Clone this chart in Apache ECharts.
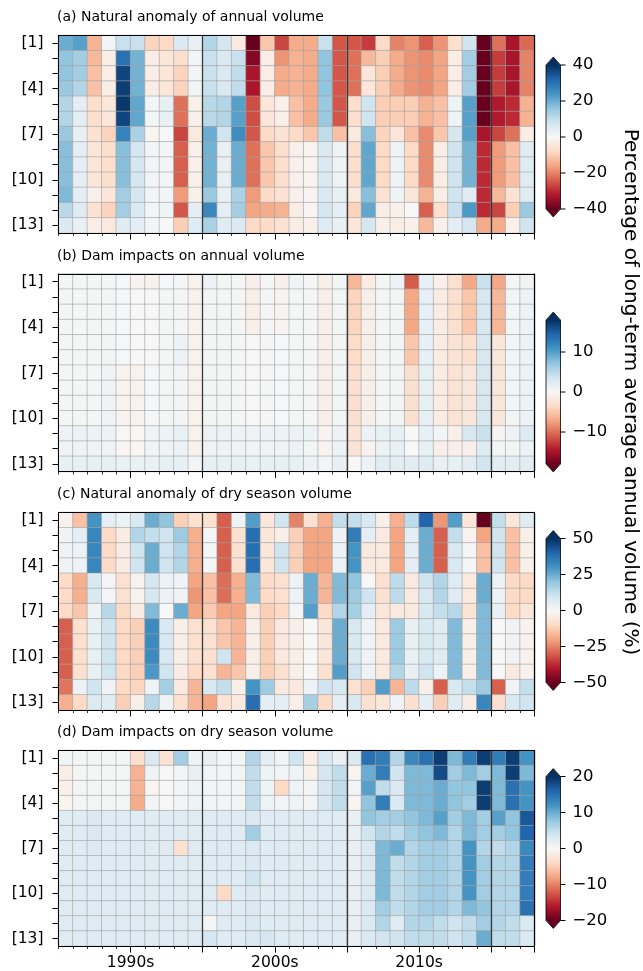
<!DOCTYPE html>
<html><head><meta charset="utf-8">
<script src="https://cdn.jsdelivr.net/npm/echarts@6/dist/echarts.min.js"></script>
<style>html,body{margin:0;padding:0;background:#fff}#c{width:643px;height:971px}</style>
</head><body><div id="c"></div>
<script>
const years = ['1990','1991','1992','1993','1994','1995','1996','1997','1998','1999','2000','2001','2002','2003','2004','2005','2006','2007','2008','2009','2010','2011','2012','2013','2014','2015','2016','2017','2018','2019','2020','2021','2022'];
const rowLabels = ['[1]','[2]','[3]','[4]','[5]','[6]','[7]','[8]','[9]','[10]','[11]','[12]','[13]'];
const decadeLabels = {5:'1990s', 15:'2000s', 25:'2010s'};
const decadeBreaks = [10, 20, 30];
const panelTitles = ['(a) Natural anomaly of annual volume','(b) Dam impacts on annual volume','(c) Natural anomaly of dry season volume','(d) Dam impacts on dry season volume'];
const colorRanges = [40, 18, 50, 20];
const colorbarTicks = [[-40,-20,0,20,40],[-10,0,10],[-50,-25,0,25,50],[-20,-10,0,10,20]];
const cbarLabel = 'Percentage of long-term average annual volume (%)';

// each inner array = one year (column), values for rows [1]..[13]
const annualNatural = [
[20,16,16,15,12,12,15,17,17,17,18,11,6],
[22,14,14,12,4,4,3,4,4,4,4,5,3],
[-14,-13,-12,-12,-7,-7,-6,-5,-5,-5,-2,-6,-3],
[1,-3,-3,-3,-5,-5,-9,-7,-7,-7,-5,-9,-4],
[9,30,37,38,39,37,27,17,17,17,14,14,5],
[9,19,19,19,21,21,13,7,7,7,7,6,4],
[-9,-3,-3,-3,1,1,-1,1,1,1,1,1,1],
[-8,-5,-5,-5,3,3,0,1,1,1,1,2,0],
[6,-7,-9,-9,-22,-22,-27,-24,-24,-24,-17,-25,-10],
[3,1,1,1,-2,-2,-4,-2,-2,-2,-2,4,5],
[12,9,9,9,11,11,20,19,19,19,15,26,13],
[7,6,6,6,12,12,8,3,3,3,3,4,5],
[-4,9,10,10,22,22,25,20,20,20,13,14,6],
[-40,-37,-33,-33,-26,-26,-25,-22,-22,-22,-17,-16,-8],
[-11,-3,-3,-3,-5,-5,-8,-11,-11,-11,-8,-15,-8],
[-27,-18,-15,-15,-2,-2,-6,-7,-7,-7,-6,-14,-6],
[-15,-14,-14,-14,-12,-12,-8,-2,-2,-2,-2,-3,-3],
[-15,-15,-15,-15,-15,-15,-11,-1,-1,-1,-1,-1,-2],
[9,16,16,16,15,15,10,6,6,6,6,7,5],
[-25,-25,-25,-25,-25,-25,-12,2,2,2,3,4,3],
[-25,-22,-22,-22,-7,-7,-4,-7,-7,-7,-4,-9,-5],
[-28,-13,-5,-5,8,8,17,21,21,21,17,21,7],
[-8,-10,-10,-10,-10,-10,-9,-8,-8,-8,-6,-3,-2],
[-20,-15,-15,-15,-10,-10,-5,2,2,2,2,-2,-3],
[-18,-18,-18,-18,-10,-10,-12,-8,-8,-8,-5,0,-2],
[-24,-19,-19,-19,-14,-14,-19,-19,-19,-19,-14,-24,-13],
[-18,-16,-16,-16,-12,-12,-11,-3,-3,-3,-3,-7,-2],
[-7,-3,-3,-3,2,2,7,8,8,8,8,9,4],
[8,14,14,14,22,22,22,19,19,19,5,23,7],
[-45,-45,-45,-45,-45,-45,-33,-30,-30,-30,-30,-30,-15],
[-22,-28,-28,-28,-32,-32,-27,-17,-17,-17,-13,-27,-15],
[-33,-33,-33,-33,-30,-30,-22,-12,-12,-12,-6,-10,-2],
[-23,-20,-20,-20,-14,-14,-3,5,5,5,5,15,8]
];

const annualDam = [
[0.3,0.3,0.3,0.3,0.3,0.3,0.3,0.3,0.3,0.3,1,0.8,1.5],
[0.3,0.3,0.3,0.3,0.3,0.3,0.3,0.3,0.3,0.3,1,0.8,1.5],
[0.3,0.3,0.3,0.3,0.3,0.3,0.3,0.3,0.3,0.3,1,0.8,1.5],
[0.3,0.3,0.3,0.3,0.5,0.5,0.8,0.8,0.8,0.8,1,0.8,1.5],
[0.2,0.2,0.2,0.2,0.2,0.2,-0.5,-0.5,-0.5,-0.5,-0.3,-0.3,1.2],
[-0.5,0,0,0,0,0,-0.6,-0.6,-0.6,-0.6,-0.3,-0.3,1.2],
[-0.7,0,0,0,0,0,0.2,0.2,0.2,0.2,0.8,0.6,1.2],
[0.2,0.3,0.3,0.3,0.3,0.3,0.3,0.3,0.3,0.3,1,0.8,1.5],
[0.3,0.3,0.3,0.3,1,1,0.5,0.5,0.5,0.5,1.2,1,1.5],
[-0.8,-0.6,-0.6,-0.6,-0.6,-0.6,-0.8,-0.8,-0.8,-0.8,-0.6,-0.6,0.5],
[1,0.5,0.5,0.5,0.5,0.5,0.5,0.5,0.5,0.5,1,0.8,1.5],
[0.3,0.3,0.3,0.3,0.3,0.3,0.3,0.3,0.3,0.3,1,0.8,1.5],
[0.3,0.3,0.3,0.3,0.3,0.3,0.3,0.3,0.3,0.3,1,0.8,1.5],
[-1,-1,-1,-1,0,0,0,0,0,0,0.8,0.6,1.2],
[0.3,0.3,0.3,0.3,0.3,0.3,0.3,0.3,0.3,0.3,1,0.8,1.5],
[-1,-0.5,-0.5,-0.5,0.2,0.2,0.2,0.2,0.2,0.2,1,0.8,1.5],
[0.8,0.3,0.3,0.3,0.3,0.3,0.3,0.3,0.3,0.3,1,1,1.5],
[0.3,0.3,0.3,0.3,0.3,0.3,0.3,0.3,0.3,0.3,1,0.5,1],
[-1,-1,-1,-1,-1,-1,-1,-1,-1,-1,-0.5,-0.5,0.5],
[0.5,0.5,0.5,0.5,0.5,0.5,0.5,0.5,0.5,0.5,1,1,1.5],
[-6,-4,-4,-4,-3.5,-3.5,-3,-3,-3,-3,-2.5,-2.5,0],
[-1.5,-1,-1,-1,-1,-1,-1,-1,-1,-1,1,-0.5,1],
[0.3,0.3,0.3,0.3,0.3,0.3,0.3,0.3,0.3,0.3,1.5,1,2],
[1,0.5,0.5,0.5,0.5,0.5,0.5,0.5,0.5,0.5,1.5,1.5,2],
[-11,-7,-7,-7,-5,-5,-3,-3,-3,-3,0,0,2],
[1.5,1.5,1.5,1.5,1.5,1.5,1.5,1.5,1.5,1.5,1.5,1.5,2.5],
[-1,-1.5,-1.5,-1.5,-1.5,-1.5,-1.5,-1.5,-1.5,-1.5,0.5,-1,1.5],
[-3,-3,-3,-3,-2.5,-2.5,-2.5,-2.5,-2.5,-2.5,-1,-1,1.5],
[-7,-5,-5,-5,-3,-3,-2,-2,-2,-2,3,-1,2],
[4,3,3,3,3,3,3,3,3,3,4,2.5,3.5],
[-7,-6,-6,-6,-2,-2,-2,-2,-2,-2,-0.5,0.3,2],
[0.3,0.5,0.5,0.5,0.5,0.5,0.5,0.5,0.5,0.5,1,0.5,2],
[0.8,1,1,1,1,1,1,1,1,1,2.5,1,2]
];

const dryNatural = [
[-2,2,2,2,-10,-10,-10,-30,-30,-30,-30,-27,-18],
[-15,5,3,3,-18,-18,-14,-8,-8,-8,-8,3,-10],
[30,33,33,33,8,8,3,4,4,4,4,10,7],
[5,-10,-10,-10,1,1,14,10,10,10,10,2,6],
[3,-4,-4,-4,-8,-8,-10,-10,-10,-10,-10,-10,-12],
[8,15,10,10,-2,-2,-4,-12,-12,-12,-12,-11,-3],
[25,12,25,25,9,9,22,32,32,32,29,2,14],
[20,10,10,10,3,3,0,8,8,8,10,17,2],
[-12,18,15,15,2,2,25,-3,-3,-3,-4,-5,-8],
[-8,-18,-18,-18,-20,-22,-20,-8,-8,-8,-10,-17,-17],
[-8,1,1,1,-15,-15,-13,-8,-8,-8,-8,8,-20],
[-30,-30,-30,-30,-28,-28,-20,-14,-14,10,-17,12,-7],
[2,-8,-8,-8,-18,-18,-20,-17,-17,-17,-14,-3,-5],
[28,38,38,38,22,22,-5,-3,-3,-3,-3,30,38],
[-6,-6,-6,-6,-10,-10,-12,-12,-12,-12,-12,18,5],
[10,-3,10,10,-8,-8,-10,-5,-5,-5,-8,-5,5],
[-25,-12,-12,-12,3,3,1,-3,-3,-3,-3,-5,-3],
[-8,-20,-20,-20,25,25,28,0,0,0,0,3,17],
[-18,-20,-20,-20,-17,-17,-10,-6,-6,-6,-8,10,-10],
[12,3,3,3,22,22,15,25,25,25,28,8,5],
[12,35,30,30,20,18,17,8,8,8,10,-8,8],
[8,5,-5,-5,0,10,5,2,2,2,2,-12,-8],
[-3,-5,-5,-5,-8,-8,-6,-5,-5,-5,-5,28,-6],
[-18,-20,-20,-20,13,13,-5,18,18,18,15,-17,2],
[13,5,5,5,-5,-5,-5,4,4,4,4,13,-8],
[40,25,25,25,10,8,8,8,8,8,10,-3,5],
[-22,-30,-30,-30,15,15,12,6,6,6,3,-30,-12],
[28,12,8,8,6,6,14,22,22,22,22,8,6],
[-6,-2,1,1,-5,-5,-7,-3,-3,-3,-3,12,-4],
[-55,-20,-15,-15,25,25,22,22,22,22,22,18,33],
[12,10,10,10,3,3,4,0,0,0,0,-30,-8],
[-6,-15,-15,-15,-10,-10,-10,2,2,2,-5,2,8],
[6,-3,-3,-3,-10,-10,-6,-2,-2,-2,-2,12,10]
];

const dryDam = [
[0.5,-1.5,-1,-0.5,2.5,2.5,2.5,2.5,2.5,2.5,2.5,2.5,2.5],
[0.3,0.3,0.3,0.3,2.5,2.5,2.5,2.5,2.5,2.5,2.5,2.5,2.5],
[0.3,0.3,0.3,0.3,3,3,3,2.5,2.5,2.5,2.5,2.5,2.5],
[0.3,0.3,0.3,0.3,2.5,2.5,2.5,2.5,2.5,2.5,2.5,2.5,2.5],
[0.3,0.3,0.3,0.3,2.5,2.5,2.5,2.5,2.5,2.5,2.5,2.5,2.5],
[-3.5,-7,-7,-7.5,2.5,2.5,2.5,2.5,2.5,2.5,2.5,2.5,2.5],
[3,1,-0.5,0.5,2.5,2.5,2.5,2.5,2.5,2.5,2.5,2.5,2.5],
[-3,0,0,0,2.5,2.5,2.5,2.5,2.5,2.5,2.5,2.5,2.5],
[7,0.5,0.5,0.5,2.5,2.5,-3,2.5,2.5,2.5,2.5,2.5,2.5],
[1,1.5,1,1,2.5,2.5,2.5,2.5,2.5,2.5,2.5,2.5,2.5],
[1.5,0.5,0.5,0.5,2.5,2.5,2.5,2.5,2.5,2.5,2.5,0.3,3.5],
[0.5,0.5,0.5,0.5,2.5,2.5,2.5,2.5,2.5,-4,2.5,2.5,2.5],
[0.5,0.5,0.5,0.5,2.5,2.5,2.5,2.5,2.5,2.5,2.5,2.5,2.5],
[6,5,5,5,3,7,3,3,4,3,3,3,3],
[2,1,1,1,2.5,2.5,2.5,2.5,2.5,2.5,2.5,2.5,3.5],
[0.5,0.5,-4,0.5,2.5,2.5,2.5,2.5,2.5,2.5,2.5,2.5,2.5],
[4,1,1,1,2.5,2.5,2.5,2.5,2.5,2.5,2.5,2.5,2.5],
[-1.5,-1,0.5,0.5,2.5,2.5,2.5,2.5,2.5,2.5,2.5,2.5,2.5],
[3,3.5,3.5,3.5,2.5,2.5,2.5,2.5,2.5,2.5,2.5,2.5,2.5],
[1.5,5,5,5,2.5,2.5,2.5,2.5,2.5,2.5,2.5,2.5,2.5],
[3,-0.5,0.5,-0.5,1.5,1.5,1.5,1.5,1.5,1.5,1.5,1.5,1.5],
[15,10,11,8,8,4,3,3,3,3,3,3,3],
[14,14,5,14,7,6,9,9,9,9,7,6,4],
[6,4,3,3,7,5,10,5,5,5,5,2.5,4],
[13,9,9,9,8,7,6,6,6,6,6,6,5],
[15,9,9,9,9,8,7,7,7,7,7,6,5],
[19,18,10,10,11,9,7,7,7,7,7,5,5],
[9,7,8,8,7,6,6,6,6,6,6,4,4],
[14,9,8,7,9,9,12,12,12,12,9,5,5],
[19,7,19,19,7,7,6,7,7,7,8,7,10],
[14,9,9,9,11,7,5,6,6,6,6,6,5],
[19,19,15,15,8,8,6,6,6,6,6,5,5],
[12,9,12,12,17,16,13,14,14,14,15,3,3]
];

const panelData = [annualNatural, annualDam, dryNatural, dryDam];
const RDBU = ['#67001f','#b2182b','#d6604d','#f4a582','#fddbc7','#f7f7f7','#d1e5f0','#92c5de','#4393c3','#2166ac','#053061'];

// ---- layout ----
const FONT = 'DejaVu Sans';
const plotLeft = 58.5, plotWidth = 476, plotHeight = 197.5;
const panelTops = [35.5, 274, 512.5, 750.5];
const cbLeft = 546, cbWidth = 14.5, cbHeight = 144;
const cbTops = [65, 320, 538.5, 776.5];

const option = {
  animation: false,
  textStyle: {fontFamily: FONT},
  title: [], grid: [], xAxis: [], yAxis: [], visualMap: [], series: [],
  graphic: [{
    type: 'text', x: 630, y: 392, rotation: -Math.PI / 2,
    style: {text: cbarLabel, font: '20px "DejaVu Sans"', fill: '#000', textAlign: 'center', textVerticalAlign: 'middle'}
  }]
};

function fmtNum(v) { return v < 0 ? '\u2212' + Math.abs(v) : String(v); }

panelData.forEach((cols, p) => {
  const R = colorRanges[p];
  const ticks = colorbarTicks[p];
  const gHeat = option.grid.length;
  option.grid.push({left: plotLeft, top: panelTops[p], width: plotWidth, height: plotHeight, containLabel: false});
  const gCb = option.grid.length;
  option.grid.push({left: cbLeft, top: cbTops[p], width: cbWidth, height: cbHeight, containLabel: false});

  option.title.push({
    text: panelTitles[p], left: 57, top: panelTops[p] - 25, padding: 0,
    textStyle: {fontSize: 14, fontWeight: 'normal', color: '#000', fontFamily: FONT}
  });

  const xMain = option.xAxis.length;
  option.xAxis.push({
    type: 'category', gridIndex: gHeat, data: years, position: 'bottom', z: 10,
    axisLine: {show: true, onZero: false, lineStyle: {color: '#000', width: 1}},
    axisTick: {show: true, interval: 0, length: 3, lineStyle: {color: '#000', width: 0.8}},
    axisLabel: {show: false},
    splitLine: {show: true, interval: (i) => decadeBreaks.indexOf(i) >= 0, lineStyle: {color: '#3a3a3a', width: 1.3}}
  });
  option.xAxis.push({
    type: 'category', gridIndex: gHeat, data: years, position: 'bottom', z: 10,
    axisLine: {show: false},
    axisTick: {show: true, interval: (i) => i > 0 && i % 5 === 0, length: 6.5, lineStyle: {color: '#000', width: 1}},
    axisLabel: {
      show: p === 3, interval: (i) => decadeLabels[i] !== undefined,
      formatter: (v, i) => decadeLabels[i] || '', padding: [0, plotWidth / years.length, 0, 0],
      fontSize: 15.5, color: '#000', fontFamily: FONT, margin: 9
    },
    splitLine: {show: false}
  });
  option.xAxis.push({
    type: 'category', gridIndex: gHeat, data: years, position: 'top', z: 10,
    axisLine: {show: true, onZero: false, lineStyle: {color: '#000', width: 1}},
    axisTick: {show: false}, axisLabel: {show: false}, splitLine: {show: false}
  });
  const xCb = option.xAxis.length;
  option.xAxis.push({type: 'value', gridIndex: gCb, min: 0, max: 1, show: false});

  const yMain = option.yAxis.length;
  option.yAxis.push({
    type: 'category', gridIndex: gHeat, data: rowLabels, inverse: true, position: 'left', z: 10,
    axisLine: {show: true, onZero: false, lineStyle: {color: '#000', width: 1}},
    axisTick: {show: true, alignWithLabel: true, interval: 0, length: 6, lineStyle: {color: '#000', width: 1}},
    axisLabel: {interval: 2, fontSize: 15.5, color: '#000', fontFamily: FONT, margin: 15},
    splitLine: {show: false}
  });
  option.yAxis.push({
    type: 'category', gridIndex: gHeat, data: rowLabels, inverse: true, position: 'right', z: 10,
    axisLine: {show: true, onZero: false, lineStyle: {color: '#000', width: 1}},
    axisTick: {show: false}, axisLabel: {show: false}, splitLine: {show: false}
  });
  const yCb = option.yAxis.length;
  option.yAxis.push({type: 'value', gridIndex: gCb, min: -R, max: R, show: false});

  const data = [];
  cols.forEach((col, xi) => col.forEach((v, yi) => data.push([xi, yi, Math.max(-R, Math.min(R, v))])));
  const sIdx = option.series.length;
  option.series.push({
    type: 'heatmap', xAxisIndex: xMain, yAxisIndex: yMain, data: data,
    itemStyle: {borderColor: '#a3a3a3', borderWidth: 0.6},
    emphasis: {disabled: true}, progressive: 0
  });
  option.visualMap.push({
    type: 'continuous', show: false, seriesIndex: sIdx, dimension: 2, min: -R, max: R,
    inRange: {color: RDBU}
  });
  option.series.push({
    type: 'custom', xAxisIndex: xCb, yAxisIndex: yCb, data: [[0, 0]], silent: true, clip: false,
    renderItem: (params, api) => {
      const cs = params.coordSys;
      const x0 = cs.x, x1 = cs.x + cs.width, xm = (x0 + x1) / 2;
      const yT = api.coord([0, R])[1], yB = api.coord([0, -R])[1];
      const h = (yB - yT) * 0.055;
      const stops = RDBU.map((c, k) => ({offset: k / (RDBU.length - 1), color: c}));
      const children = [
        {type: 'rect', shape: {x: x0, y: yT, width: x1 - x0, height: yB - yT},
         style: {fill: new echarts.graphic.LinearGradient(0, 1, 0, 0, stops)}},
        {type: 'polygon', shape: {points: [[x0, yT + 0.5], [x1, yT + 0.5], [xm, yT - h]]}, style: {fill: RDBU[RDBU.length - 1]}},
        {type: 'polygon', shape: {points: [[x0, yB - 0.5], [x1, yB - 0.5], [xm, yB + h]]}, style: {fill: RDBU[0]}},
        {type: 'polygon', shape: {points: [[x0, yT], [xm, yT - h], [x1, yT], [x1, yB], [xm, yB + h], [x0, yB]]},
         style: {fill: 'none', stroke: '#000', lineWidth: 0.8}}
      ];
      ticks.forEach(t => {
        const y = api.coord([0, t])[1];
        children.push({type: 'line', shape: {x1: x1, y1: y, x2: x1 + 5, y2: y}, style: {stroke: '#000', lineWidth: 1}});
        children.push({type: 'text', x: x1 + 12, y: y,
          style: {text: fmtNum(t), fill: '#000', font: '16.5px "DejaVu Sans"', textAlign: 'left', textVerticalAlign: 'middle'}});
      });
      return {type: 'group', children: children};
    }
  });
});

const chart = echarts.init(document.getElementById('c'), null, {renderer: 'canvas'});
chart.setOption(option);
</script>
</body></html>
